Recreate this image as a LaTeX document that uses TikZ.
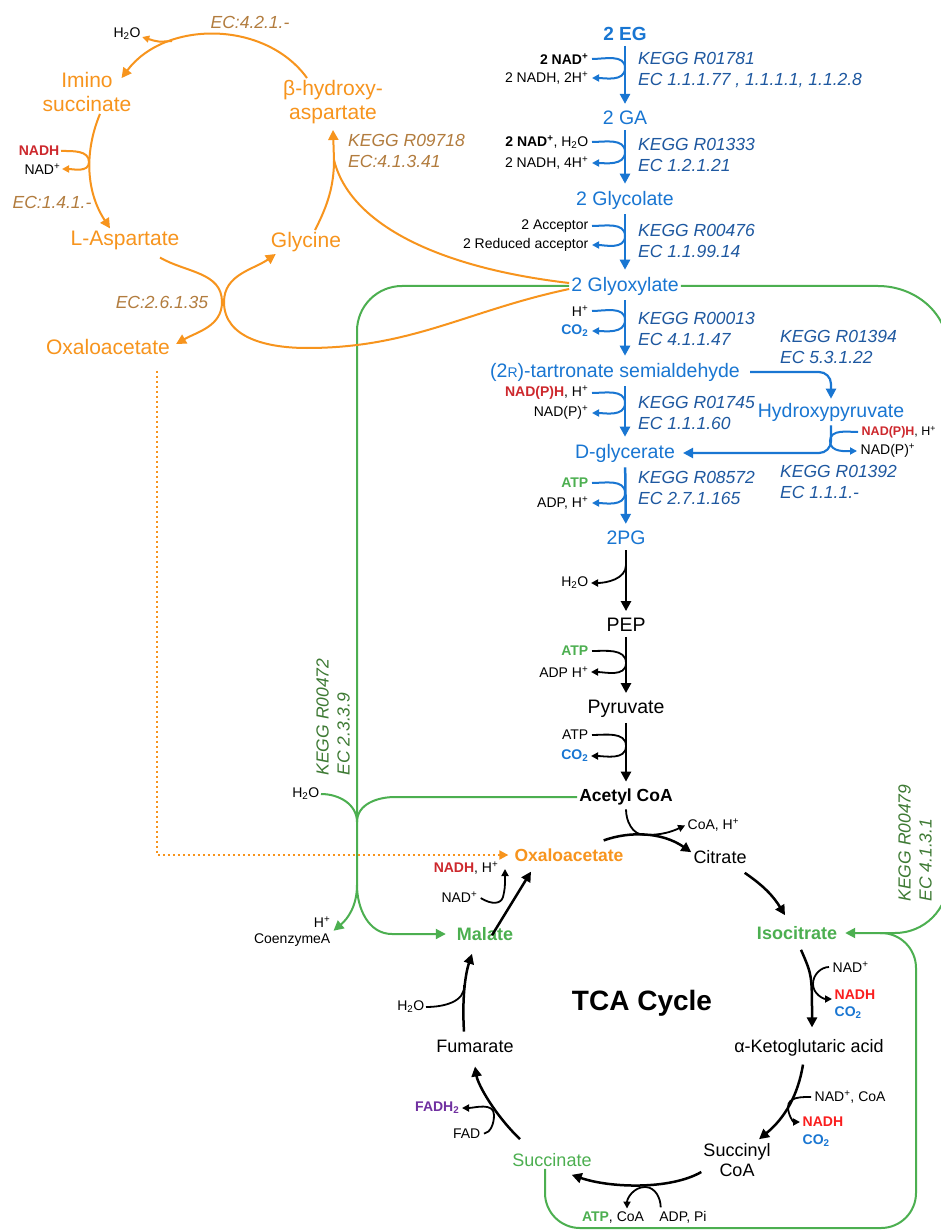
\documentclass[tikz,border=0pt]{standalone}
\usepackage{fontspec}
\setmainfont{Liberation Sans}
\usepackage{xcolor}
\definecolor{mblue}{RGB}{25,118,210}
\definecolor{kblue}{RGB}{30,88,160}
\definecolor{orng}{RGB}{247,148,29}
\definecolor{ecbrn}{RGB}{178,124,62}
\definecolor{agreen}{RGB}{76,175,80}
\definecolor{kgreen}{RGB}{62,122,52}
\definecolor{nred}{RGB}{205,40,45}
\definecolor{tred}{RGB}{250,30,30}
\definecolor{fpurple}{RGB}{112,48,160}
\usetikzlibrary{arrows.meta}

\tikzset{
  bmet/.style={font=\fontsize{19.5}{22}\selectfont, text=mblue, inner sep=2pt},
  kmet/.style={font=\fontsize{19.5}{22}\selectfont, inner sep=2pt},
  tmet/.style={font=\fontsize{18}{20}\selectfont, align=center, inner sep=2pt},
  omet/.style={font=\fontsize{21}{24}\selectfont, text=orng, align=center, inner sep=2pt},
  sml/.style={font=\fontsize{14}{16}\selectfont, inner sep=1.5pt},
  smb/.style={sml, font=\fontsize{14}{16}\selectfont\bfseries},
  kegg/.style={font=\fontsize{17.5}{21}\selectfont\itshape, text=kblue, align=left, anchor=west, inner sep=0pt},
  eclbl/.style={font=\fontsize{17.5}{21}\selectfont\itshape, text=ecbrn, align=left, inner sep=0pt},
  gkegg/.style={font=\fontsize{17.5}{21}\selectfont\itshape, text=kgreen, align=left, rotate=90, inner sep=0pt},
  gap/.style={shorten <=3pt, shorten >=5pt},
  bstep/.style={draw=mblue, line width=2.5pt, -{Triangle[length=10pt,width=10pt]}},
  bside/.style={draw=mblue, line width=2pt, -{Triangle[length=7pt,width=7pt]}, shorten <=2pt, shorten >=2pt},
  kstep/.style={draw=black, line width=2.5pt, -{Triangle[length=10pt,width=10pt]}},
  kside/.style={draw=black, line width=1.8pt, -{Triangle[length=7pt,width=7pt]}, shorten <=2pt, shorten >=1pt},
  kline/.style={draw=black, line width=1.8pt},
  oline/.style={draw=orng, line width=2pt},
  oarr/.style={oline, -{Triangle[length=10pt,width=10pt]}},
  osmall/.style={oline, -{Triangle[length=7pt,width=7pt]}},
  odot/.style={oline, dash pattern=on 2pt off 3pt, -{Triangle[length=9pt,width=9pt]}, shorten >=4pt},
  gline/.style={draw=agreen, line width=2pt},
  garr/.style={gline, -{Triangle[length=10pt,width=10pt]}},
}

\begin{document}
\begin{tikzpicture}[x=1pt,y=1pt]
\useasboundingbox (0,0) rectangle (941,-1230);
\fill[white] (0,0) rectangle (941,-1230);

% blue part
\node[bmet, font=\fontsize{19}{22}\selectfont\bfseries] (eg) at (625,-34) {2 EG};
\node[bmet] (ga) at (625,-118) {2 GA};
\node[bmet] (glycolate) at (625,-200) {2 Glycolate};
\node[bmet] (glyox) at (625,-286) {2 Glyoxylate};
\node[bmet] (tartr) at (615,-372) {(2{\fontsize{14}{14}\selectfont R})-tartronate semialdehyde};
\node[bmet] (hpyr) at (831,-412) {Hydroxypyruvate};
\node[bmet] (dglyc) at (625,-453) {D-glycerate};
\node[bmet] (pg) at (626,-538) {2PG};

\foreach \n/\y/\lbl in {a/70.5/{KEGG R01781\\EC 1.1.1.77 , 1.1.1.1, 1.1.2.8}, b/154.5/{KEGG R01333\\EC 1.2.1.21}, c/240.5/{KEGG R00476\\EC 1.1.99.14}, d/328.5/{KEGG R00013\\EC 4.1.1.47}, e/412.5/{KEGG R01745\\EC 1.1.1.60}, f/487.5/{KEGG R08572\\EC 2.7.1.165}}
  \node[kegg] (kegg\n) at (638,-\y) {\lbl};
\node[kegg] (keggg) at (780,-347) {KEGG R01394\\EC 5.3.1.22};
\node[kegg] (keggh) at (780,-482) {KEGG R01392\\EC 1.1.1.-};

% side substrates and products
\foreach \n/\y/\lbl in {1/59/{\textbf{2 NAD\textsuperscript{+}}}, 2/142/{\textbf{2 NAD\textsuperscript{+}}, H\textsubscript{2}O}, 3/226/{2 Acceptor}, 4/311/{H\textsuperscript{+}}, 5/393/{\textcolor{nred}{\textbf{NAD(P)H}}, H\textsuperscript{+}}, 6/483/{\textcolor{agreen}{\textbf{ATP}}}, 8/651/{\textcolor{agreen}{\textbf{ATP}}}, 9/735/{ATP}}
  \node[sml, anchor=east] (in\n) at (590,-\y) {\lbl};
\foreach \n/\y/\lbl in {1/78/{2 NADH, 2H\textsuperscript{+}}, 2/163/{2 NADH, 4H\textsuperscript{+}}, 3/245/{2 Reduced acceptor}, 4/331/{\textcolor{mblue}{\textbf{CO\textsubscript{2}}}}, 5/413/{NAD(P)\textsuperscript{+}}, 6/503/{ADP, H\textsuperscript{+}}, 8/672/{ADP H\textsuperscript{+}}, 9/756/{\textcolor{mblue}{\textbf{CO\textsubscript{2}}}}}
  \node[sml, anchor=east] (out\n) at (590,-\y) {\lbl};
\node[sml, anchor=east] (w7) at (590,-583) {H\textsubscript{2}O};
\node[sml, font=\fontsize{12.5}{15}\selectfont, anchor=west] (hin) at (860,-432) {\textcolor{nred}{\textbf{NAD(P)H}}, H\textsuperscript{+}};
\node[sml, anchor=west] (hout) at (859,-451) {NAD(P)\textsuperscript{+}};

\draw[bstep, gap] (eg) -- (ga);
\draw[bstep, gap] (ga) -- (glycolate);
\draw[bstep, gap] (glycolate) -- (glyox);
\draw[bstep, gap] (glyox.south) -- (glyox.south |- tartr.north);
\draw[bstep, gap] (dglyc.north |- tartr.south) -- (dglyc.north);
\draw[bstep, gap] (dglyc) -- (pg);
\foreach \n/\ym in {1/68, 2/152, 3/236, 4/320, 5/403, 6/493}
  \draw[bside] (in\n.east) to[out=0,in=90] (625,-\ym) to[out=-90,in=0] (out\n.east);
\draw[bstep, line width=2.2pt, rounded corners=12pt, shorten <=8pt, shorten >=2pt] (tartr.east) -| (hpyr.north);
\draw[bstep, line width=2.2pt, rounded corners=12pt, shorten <=2pt, shorten >=6pt] (hpyr.south) |- (dglyc.east);
\draw[bside] (hin.west) to[out=180,in=90] (830,-441) to[out=-90,in=180] (hout.west);

% black part
\node[kmet] (pep) at (626,-625) {PEP};
\node[kmet] (pyr) at (626,-709) {Pyruvate};
\node[kmet, font=\fontsize{17.5}{20}\selectfont\bfseries] (acoa) at (626,-797) {Acetyl CoA};
\coordinate (b7) at (626,-563);
\draw[kstep, gap] (pg) -- (pep);
\draw[kstep, gap] (pep) -- (pyr);
\draw[kstep, gap] (pyr) -- (acoa);
\draw[kside] (b7) to[out=-90,in=0] (w7.east);
\foreach \n/\ym in {8/663, 9/746}
  \draw[kside] (in\n.east) to[out=0,in=90] (626,-\ym) to[out=-90,in=0] (out\n.east);

% TCA cycle
\node[tmet] (cit) at (720,-857) {Citrate};
\node[tmet, font=\fontsize{18}{20}\selectfont\bfseries, text=agreen] (iso) at (797,-933) {Isocitrate};
\node[tmet] (akg) at (809,-1048) {α-Ketoglutaric acid};
\node[tmet] (succoa) at (737,-1160) {Succinyl\\CoA};
\node[tmet, text=agreen] (succ) at (552,-1160) {Succinate};
\node[tmet] (fum) at (475,-1046) {Fumarate};
\node[tmet, font=\fontsize{18}{20}\selectfont\bfseries, text=agreen] (mal) at (485,-934) {Malate};
\node[tmet, font=\fontsize{17.5}{20}\selectfont\bfseries, text=orng] (oaa) at (569,-855) {Oxaloacetate};
\node[font=\fontsize{28}{30}\selectfont\bfseries] (tca) at (642,-1003) {TCA Cycle};

\node[sml, anchor=west] (coa) at (686,-825) {CoA, H\textsuperscript{+}};
\node[sml, anchor=west] (nad10) at (831,-967) {NAD\textsuperscript{+}};
\node[smb, anchor=west, text=tred] (nadh10) at (833,-995) {NADH};
\node[smb, anchor=west, text=mblue] (co10) at (833,-1013) {CO\textsubscript{2}};
\node[sml, anchor=west] (nad11) at (813,-1097) {NAD\textsuperscript{+}, CoA};
\node[smb, anchor=west, text=tred] (nadh11) at (801,-1122) {NADH};
\node[smb, anchor=west, text=mblue] (co11) at (801,-1141) {CO\textsubscript{2}};
\node[sml] (atp13) at (613,-1217) {\textcolor{agreen}{\textbf{ATP}}, CoA};
\node[sml] (adp13) at (683,-1217) {ADP, Pi};
\node[smb, anchor=east, text=fpurple] (fadh) at (461,-1108) {FADH\textsubscript{2}};
\node[sml, anchor=east] (fad) at (482,-1134) {FAD};
\node[sml, anchor=east] (w15) at (426,-1007) {H\textsubscript{2}O};
\node[sml, anchor=east] (nadh16) at (500,-868) {\textcolor{nred}{\textbf{NADH}}, H\textsuperscript{+}};
\node[sml, anchor=east] (nad16) at (479,-897) {NAD\textsuperscript{+}};

\coordinate (cm) at (645,-835);
\coordinate (m10) at (813,-984);
\coordinate (m11) at (788,-1107);
\coordinate (m13) at (645,-1187);
\coordinate (m14) at (494,-1115);
\coordinate (m15) at (464,-985);
\coordinate (m16) at (503,-897);

\draw[kstep] ([xshift=-22pt,yshift=6pt]oaa.north east) .. controls (630,-831) and (662,-832) .. ([yshift=-4pt]cit.north west);
\draw[kside] (acoa.south) to[out=-90,in=180] (cm) to[out=0,in=205] (coa.west);
\draw[kstep] ([xshift=-4pt,yshift=-7pt]cit.south east) to[bend left=12] ([xshift=-12pt,yshift=9pt]iso.north);
\draw[kstep] ([xshift=4pt,yshift=-8pt]iso.south) .. controls (812,-975) .. ([xshift=3pt,yshift=10pt]akg.north);
\draw[kside] (nad10.west) to[out=180,in=90] (m10) to[out=-90,in=180] ([yshift=-4pt]nadh10.west);
\draw[kstep] ([xshift=-6pt,yshift=-6pt]akg.south) .. controls (798,-1095) and (785,-1118) .. ([xshift=22pt,yshift=2pt]succoa.north);
\draw[kside] (nad11.west) to[out=180,in=90] (m11) to[out=-90,in=180] (nadh11.west);
\draw[kstep] ([yshift=-12pt]succoa.west) .. controls (670,-1190) and (610,-1188) .. ([xshift=-22pt,yshift=-6pt]succ.south east);
\draw[kside] ([xshift=3pt]adp13.north west) to[out=90,in=0] (m13) to[out=180,in=90] ([xshift=14pt]atp13.north);
\draw[kstep] ([xshift=-32pt,yshift=12pt]succ.north) .. controls (495,-1115) and (478,-1085) .. ([yshift=-12pt]fum.south);
\draw[kside] (fad.east) to[out=10,in=-90] (m14) to[out=90,in=0] (fadh.east);
\draw[kstep] ([xshift=-11pt,yshift=6pt]fum.north) .. controls (462,-1000) and (465,-975) .. ([xshift=-13pt,yshift=-11pt]mal.south);
\draw[kline] (w15.east) to[out=0,in=-85] (m15);
\draw[kstep] ([xshift=7pt,yshift=-10pt]mal.north) -- ([xshift=-38pt,yshift=-8pt]oaa.south);
\draw[kside] (nad16.east) .. controls (492,-905) and (501,-904) .. (m16) .. controls (505,-888) .. ([xshift=5pt]nadh16.east);

% glyoxylate shunt (green)
\node[sml, anchor=east] (gw) at (321,-794) {H\textsubscript{2}O};
\node[sml, anchor=east, align=right] (hco) at (332,-932) {H\textsuperscript{+}\\CoenzymeA};
\node[gkegg] (kg1) at (333,-717) {KEGG R00472\\EC 2.3.3.9};
\node[gkegg] (kg2) at (915,-843) {KEGG R00479\\EC 4.1.3.1};
\coordinate (gj1) at (357,-822);
\coordinate (gj2) at (357,-885);

\draw[gline, rounded corners=45pt] (glyox.west) -| (gj2);
\draw[gline] (acoa.west) -- (395,-797) to[out=180,in=90] (gj1);
\draw[gline] (gw.east) to[out=0,in=90] (gj1);
\draw[garr, shorten >=2pt] (gj2) to[out=-90,in=40] (hco.east);
\draw[garr, shorten >=9pt] (gj2) to[out=-90,in=180] (392,-934) -- (mal.west);
\draw[garr, shorten >=6pt] (glyox.east) -- (878,-286) to[out=0,in=90] (948,-350) -- (948,-880) to[out=-90,in=0] (895,-933) -- (iso.east);
\draw[gline, rounded corners=35pt] ([xshift=-7pt]succ.south) |- (916,-1228) -- (916,-933) -- (880,-933);

% aspartate cycle (orange)
\node[omet] (imino) at (87,-92) {Imino\\succinate};
\node[omet] (bha) at (333,-102) {β-hydroxy-\\aspartate};
\node[omet] (lasp) at (125,-240) {L-Aspartate};
\node[omet] (gly) at (306,-242) {Glycine};
\node[omet] (ooa) at (108,-347) {Oxaloacetate};
\node[sml] (w1) at (127,-34) {H\textsubscript{2}O};
\node[eclbl] (ec1) at (250,-22) {EC:4.2.1.-};
\node[smb, anchor=east, text=nred] (nadh2) at (61,-151) {NADH};
\node[sml, anchor=east] (nad2) at (62,-169) {NAD\textsuperscript{+}};
\node[eclbl] (ec2) at (52,-202) {EC:1.4.1.-};
\node[eclbl, anchor=west] (kegg9718) at (348,-150.5) {KEGG R09718\\EC:4.1.3.41};
\node[eclbl] (ec3) at (162,-302) {EC:2.6.1.35};
\coordinate (hb) at (172,-41);
\coordinate (m2) at (89,-162);
\coordinate (m3) at (334,-160);
\coordinate (xA) at (222,-302);
\coordinate (xB) at (224,-302);
\coordinate (bB) at (307,-348);

\draw[oarr] ([xshift=-26pt]bha.north) .. controls (265,-20) and (165,-20) .. ([xshift=-12pt,yshift=-8pt]imino.north east);
\draw[osmall] (hb) .. controls (158,-42) .. ([yshift=-3pt]w1.east);
\draw[oarr] ([xshift=13pt]imino.south) .. controls (85,-150) and (85,-190) .. ([xshift=-15pt]lasp.north);
\draw[osmall] (nadh2.east) to[out=0,in=90] (m2) to[out=-90,in=0] (nad2.east);
\draw[oline] ([xshift=9pt]gly.north) .. controls (328,-205) and (334,-185) .. (m3);
\draw[oarr] (m3) -- ([yshift=-4pt]bha.south);
\draw[oline] ([yshift=3pt]glyox.west) .. controls (440,-268) and (350,-225) .. (m3);
\draw[oarr] ([xshift=35pt,yshift=-6pt]lasp.south) to[out=-30,in=90] (xA) to[out=-90,in=30] ([xshift=4pt,yshift=3pt]ooa.east);
\draw[oarr] ([yshift=-3pt]glyox.west) to[out=192,in=0] (bB) to[out=180,in=-90] (xB) to[out=90,in=215] ([xshift=7pt]gly.south west);
\draw[odot] ([xshift=49pt,yshift=-14pt]ooa.south) |- (oaa.west);
\end{tikzpicture}
\end{document}
